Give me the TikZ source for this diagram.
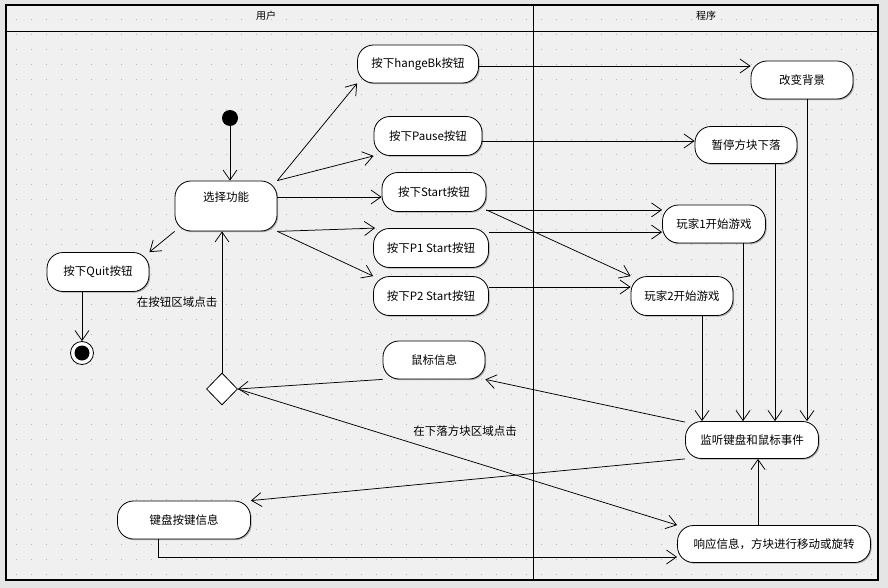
\documentclass[tikz,border=0pt]{standalone}
\usepackage{fontspec}
\newfontfamily\cjk{Noto Sans CJK SC}
\usetikzlibrary{arrows.meta,shadows,shapes.geometric,calc}
\definecolor{bg}{HTML}{F0F0F0}
\definecolor{dotc}{HTML}{B8B8B8}
\begin{document}
\begin{tikzpicture}[x=1pt,y=-1pt,
  act/.style={draw=black, line width=0.8pt, fill=white, rounded corners=16pt, inner sep=0pt,
    font=\cjk\fontsize{11.5}{13}\selectfont,
    drop shadow={shadow xshift=1.2pt, shadow yshift=-1.2pt, fill=black!50, opacity=0.6}},
  conn/.style={draw=black, line width=0.75pt, -{Straight Barb[length=10pt,width=14pt,line width=0.75pt]}},
  lbl/.style={font=\cjk\fontsize{11.5}{13}\selectfont, inner sep=0pt},
  hdr/.style={font=\cjk\fontsize{10}{12}\selectfont, inner sep=0pt}]
\useasboundingbox (0,0) rectangle (888,588);
\fill[black!10] (0,0) rectangle (888,588);
\fill[bg] (6,5) rectangle (878,580);
\foreach \x in {16,31,...,871}{\foreach \y in {19,34,...,574}{\fill[dotc] (\x,\y) rectangle +(1,1);}}
\draw[line width=1.4pt] (6,5) rectangle (878,580);
\draw[line width=1pt] (6,32) -- (878,32);
\draw[line width=1pt] (533,5) -- (533,580);
\node[hdr] (h1) at (266,16) {用户};
\node[hdr] (h2) at (706,16) {程序};

% user lane
\node[circle, fill=black, minimum size=16pt, inner sep=0pt] (init) at (230,118) {};
\node[act, minimum width=102pt, minimum height=50pt, text height=9pt, text depth=18pt] (sel) at (226,206) {选择功能};
\node[act, minimum width=102pt, minimum height=39pt] (quit) at (98,272) {按下Quit按钮};
\node[circle, draw=black, line width=0.8pt, fill=white, minimum size=23pt, inner sep=0pt] (fin) at (82,353) {};
\fill[black] (fin.center) circle (7.5pt);
\node[diamond, draw=black, line width=0.8pt, fill=white, minimum width=31pt, minimum height=32pt, inner sep=0pt] (dia) at (222,389) {};

\node[act, minimum width=121pt, minimum height=38pt] (hb) at (418,64) {按下hangeBk按钮};
\node[act, minimum width=108pt, minimum height=39pt] (pause) at (428,136) {按下Pause按钮};
\node[act, minimum width=104pt, minimum height=39pt] (start) at (434,192) {按下Start按钮};
\node[act, minimum width=115pt, minimum height=39pt] (p1) at (431,248) {按下P1 Start按钮};
\node[act, minimum width=115pt, minimum height=39pt] (p2) at (431,296) {按下P2 Start按钮};
\node[act, minimum width=102pt, minimum height=38pt] (mouse) at (434,360) {鼠标信息};
\node[act, minimum width=133pt, minimum height=38pt] (keyb) at (184,520) {键盘按键信息};

% program lane
\node[act, minimum width=102pt, minimum height=38pt] (cb) at (802,80) {改变背景};
\node[act, minimum width=102pt, minimum height=37pt] (stop) at (746,145) {暂停方块下落};
\node[act, minimum width=103pt, minimum height=38pt] (g1) at (714,224) {玩家1开始游戏};
\node[act, minimum width=102pt, minimum height=39pt] (g2) at (682,296) {玩家2开始游戏};
\node[act, minimum width=133pt, minimum height=37pt] (listen) at (752,440) {监听键盘和鼠标事件};
\node[act, minimum width=193pt, minimum height=37pt] (resp) at (774,544) {响应信息，方块进行移动或旋转};

\node[lbl] (l1) at (177,302) {在按钮区域点击};
\node[lbl] (l2) at (465,431) {在下落方块区域点击};

% connectors
\draw[conn] (init) -- (init |- sel.north);
\draw[conn] (sel.south west) -- (quit.north east);
\draw[conn] (quit.south -| fin) -- (fin);
\draw[conn] (dia.north) -- (dia.north |- sel.south);

\draw[conn] (sel.north east) -- (hb.south west);
\draw[conn] (sel.north east) -- (pause.south west);
\draw[conn] ([yshift=9pt]sel.east) -- ([yshift=9pt]sel.east -| start.west);
\draw[conn] (sel.south east) -- ([xshift=2pt]p1.north west);
\draw[conn] (sel.south east) -- (p2.north west);

\draw[conn] ([yshift=-2pt]hb.east) -- ([yshift=-2pt]hb.east -| cb.west);
\draw[conn] ([yshift=-5pt]pause.east) -- ([yshift=-5pt]pause.east -| stop.west);
\draw[conn] ([yshift=2pt]start.south east) -- ([yshift=2pt]start.south east -| g1.west);
\draw[conn] ([yshift=2pt]start.south east) -- (g2.north west);
\draw[conn] ([yshift=-4pt]p1.north east) -- ([yshift=-4pt]p1.north east -| g1.west);
\draw[conn] ([yshift=9pt]p2.east) -- ([yshift=9pt]p2.east -| g2.west);

\draw[conn] ([xshift=5pt]cb.south) -- ([xshift=5pt]cb.south |- listen.north);
\draw[conn] ([xshift=29pt]stop.south) -- ([xshift=29pt]stop.south |- listen.north);
\draw[conn] ([xshift=29pt]g1.south) -- ([xshift=29pt]g1.south |- listen.north);
\draw[conn] ([xshift=20pt]g2.south) -- ([xshift=20pt]g2.south |- listen.north);

\draw[conn] ([yshift=-1pt]listen.north west) -- (mouse.south east);
\draw[conn] (mouse.south west) -- (dia.east);
\draw[conn] (listen.south west) -- (keyb.north east);
\draw[conn] (dia.east) -- (resp.north west);
\draw[conn] ([xshift=-26pt]keyb.south) |- ([yshift=-13pt]resp.west);
\draw[conn] ([xshift=-16pt]resp.north) -- ([xshift=-16pt]resp.north |- listen.south);
\end{tikzpicture}
\end{document}
